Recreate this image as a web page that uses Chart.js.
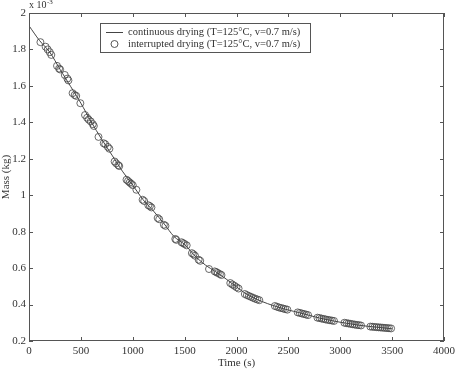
<!DOCTYPE html>
<html>
<head>
<meta charset="utf-8">
<script src="https://cdn.jsdelivr.net/npm/chart.js@4"></script>
<style>
  body { margin: 0; background: #fff; }
  #wrap { width: 455px; height: 371px; }
</style>
</head>
<body>
<div id="wrap"><canvas id="c"></canvas></div>
<script>
// continuous drying curve (mass in 10^-3 kg)
const lineTime = [0, 100, 200, 300, 400, 500, 600, 700, 800, 900, 1000, 1100, 1200, 1300, 1400, 1500, 1600, 1700, 1800, 1900, 2000, 2100, 2200, 2300, 2400, 2500, 2600, 2700, 2800, 2900, 3000, 3100, 3200, 3300, 3400, 3500];
const lineMass = [1.93, 1.85, 1.785, 1.69, 1.598, 1.505, 1.402, 1.308, 1.22, 1.132, 1.055, 0.975, 0.913, 0.845, 0.772, 0.73, 0.667, 0.617, 0.58, 0.54, 0.497, 0.456, 0.428, 0.405, 0.386, 0.37, 0.356, 0.341, 0.326, 0.314, 0.303, 0.294, 0.285, 0.279, 0.273, 0.267];

// interrupted drying measurements
const dotTime = [110, 160, 180, 200, 215,
  270, 290, 300, 345, 370, 380, 420, 440, 455, 495,
  540, 560, 575, 595, 615, 625, 670, 720, 735, 760, 775,
  825, 840, 860, 870, 940, 955, 970, 985, 1000, 1035,
  1095, 1110, 1150, 1165, 1180, 1240, 1255, 1300, 1315,
  1410, 1420, 1470, 1485, 1500, 1520, 1570, 1585, 1600, 1635, 1650,
  1735, 1790, 1805, 1820, 1840, 1855, 1940, 1960, 1980, 2000, 2020,
  2080, 2100, 2120, 2140, 2160, 2180, 2200, 2220,
  2370, 2390, 2410, 2430, 2450, 2470, 2490,
  2590, 2610, 2630, 2650, 2670, 2690,
  2780, 2800, 2820, 2840, 2860, 2880, 2900, 2920, 2940,
  3040, 3060, 3080, 3100, 3120, 3140, 3160, 3180, 3200,
  3290, 3310, 3330, 3350, 3370, 3390, 3410, 3430, 3450, 3470, 3490];
const dotMass = [1.84, 1.815, 1.80, 1.785, 1.77,
  1.71, 1.695, 1.69, 1.66, 1.64, 1.63, 1.56, 1.55, 1.545, 1.505,
  1.44, 1.425, 1.415, 1.405, 1.39, 1.38, 1.32, 1.285, 1.28, 1.265, 1.255,
  1.185, 1.175, 1.165, 1.16, 1.085, 1.078, 1.07, 1.063, 1.055, 1.03,
  0.975, 0.968, 0.945, 0.94, 0.933, 0.875, 0.868, 0.838, 0.832,
  0.76, 0.755, 0.742, 0.737, 0.732, 0.725, 0.682, 0.676, 0.668, 0.646, 0.64,
  0.595, 0.582, 0.578, 0.573, 0.567, 0.562, 0.518, 0.51, 0.503, 0.495, 0.488,
  0.458, 0.452, 0.447, 0.442, 0.437, 0.432, 0.428, 0.424,
  0.392, 0.388, 0.384, 0.381, 0.378, 0.375, 0.372,
  0.357, 0.354, 0.351, 0.348, 0.345, 0.342,
  0.328, 0.326, 0.323, 0.321, 0.318, 0.316, 0.314, 0.312, 0.31,
  0.30, 0.298, 0.296, 0.294, 0.292, 0.29, 0.288, 0.287, 0.285,
  0.279, 0.278, 0.277, 0.276, 0.275, 0.274, 0.273, 0.272, 0.271, 0.27, 0.269];

const xTicks = [0, 500, 1000, 1500, 2000, 2500, 3000, 3500, 4000];
const yTicks = [0.2, 0.4, 0.6, 0.8, 1, 1.2, 1.4, 1.6, 1.8, 2];

const legendLabels = ['continuous drying (T=125°C, v=0.7 m/s)', 'interrupted drying (T=125°C, v=0.7 m/s)'];

const ink = '#444';
const serif = '"Liberation Serif", "DejaVu Serif", serif';

// matlab-ish box, inward ticks, legend and exponent
const frame = {
  id: 'frame',
  afterDatasetsDraw(chart) {
    const { ctx, chartArea: a, scales: { x, y } } = chart;
    ctx.save();
    ctx.strokeStyle = '#555';
    ctx.lineWidth = 1;
    ctx.strokeRect(a.left + 0.5, a.top + 0.5, a.right - a.left - 1, a.bottom - a.top - 1);
    ctx.beginPath();
    for (const v of xTicks) {
      const px = Math.round(x.getPixelForValue(v)) + 0.5;
      ctx.moveTo(px, a.bottom); ctx.lineTo(px, a.bottom - 4);
      ctx.moveTo(px, a.top); ctx.lineTo(px, a.top + 4);
    }
    for (const v of yTicks) {
      const py = Math.round(y.getPixelForValue(v)) + 0.5;
      ctx.moveTo(a.left, py); ctx.lineTo(a.left + 4, py);
      ctx.moveTo(a.right, py); ctx.lineTo(a.right - 4, py);
    }
    ctx.stroke();

    // legend
    const lx = 100, ly = 23, lw = 210, lh = 29;
    ctx.fillStyle = '#fff';
    ctx.fillRect(lx, ly, lw, lh);
    ctx.strokeStyle = '#555';
    ctx.strokeRect(lx + 0.5, ly + 0.5, lw, lh);
    ctx.strokeStyle = ink;
    ctx.beginPath();
    ctx.moveTo(106, 32.5); ctx.lineTo(123, 32.5);
    ctx.stroke();
    ctx.lineWidth = 0.9;
    ctx.beginPath();
    ctx.arc(114.5, 44, 3.5, 0, Math.PI * 2);
    ctx.stroke();
    ctx.fillStyle = '#333';
    ctx.font = '10.5px ' + serif;
    ctx.textBaseline = 'middle';
    ctx.textAlign = 'left';
    ctx.fillText(legendLabels[0], 128, 32);
    ctx.fillText(legendLabels[1], 128, 44);

    // axis multiplier
    ctx.textBaseline = 'alphabetic';
    ctx.font = '10px ' + serif;
    ctx.fillText('x 10', 29, 8);
    ctx.font = '7px ' + serif;
    ctx.fillText('-3', 47, 4);
    ctx.restore();
  }
};

new Chart(document.getElementById('c'), {
  type: 'scatter',
  data: {
    datasets: [{
      label: legendLabels[0],
      data: lineTime.map((t, i) => ({ x: t, y: lineMass[i] })),
      showLine: true,
      borderColor: ink,
      borderWidth: 1,
      pointRadius: 0,
      tension: 0.3,
      order: 2
    }, {
      label: legendLabels[1],
      data: dotTime.map((t, i) => ({ x: t, y: dotMass[i] })),
      showLine: false,
      pointStyle: 'circle',
      pointRadius: 3.5,
      pointBorderWidth: 0.8,
      pointBorderColor: ink,
      pointBackgroundColor: 'rgba(0,0,0,0)',
      order: 1
    }]
  },
  options: {
    responsive: true,
    maintainAspectRatio: false,
    animation: false,
    layout: { padding: { top: 13, right: 11, left: 0, bottom: 0 } },
    plugins: { legend: { display: false }, tooltip: { enabled: false } },
    scales: {
      x: {
        type: 'linear', min: 0, max: 4000,
        afterFit: s => { s.height = 30; s.paddingLeft = 0; s.paddingRight = 0; },
        afterBuildTicks: s => { s.ticks = xTicks.map(v => ({ value: v })); },
        grid: { display: false, drawTicks: false },
        border: { display: false },
        ticks: { padding: 4, color: '#333', font: { family: serif, size: 11 }, callback: v => String(v), maxRotation: 0 },
        title: { display: true, text: 'Time (s)', color: '#333', font: { family: serif, size: 11 }, padding: { top: 0, bottom: 1 } }
      },
      y: {
        type: 'linear', min: 0.2, max: 2,
        afterFit: s => { s.width = 29; s.paddingTop = 0; s.paddingBottom = 0; },
        afterBuildTicks: s => { s.ticks = yTicks.map(v => ({ value: v })); },
        grid: { display: false, drawTicks: false },
        border: { display: false },
        ticks: { padding: 3, color: '#333', font: { family: serif, size: 11 }, callback: v => String(+v.toFixed(1)) },
        title: { display: true, text: 'Mass (kg)', color: '#333', font: { family: serif, size: 11 }, padding: { top: 0, bottom: 0 } }
      }
    }
  },
  plugins: [frame]
});
</script>
</body>
</html>
